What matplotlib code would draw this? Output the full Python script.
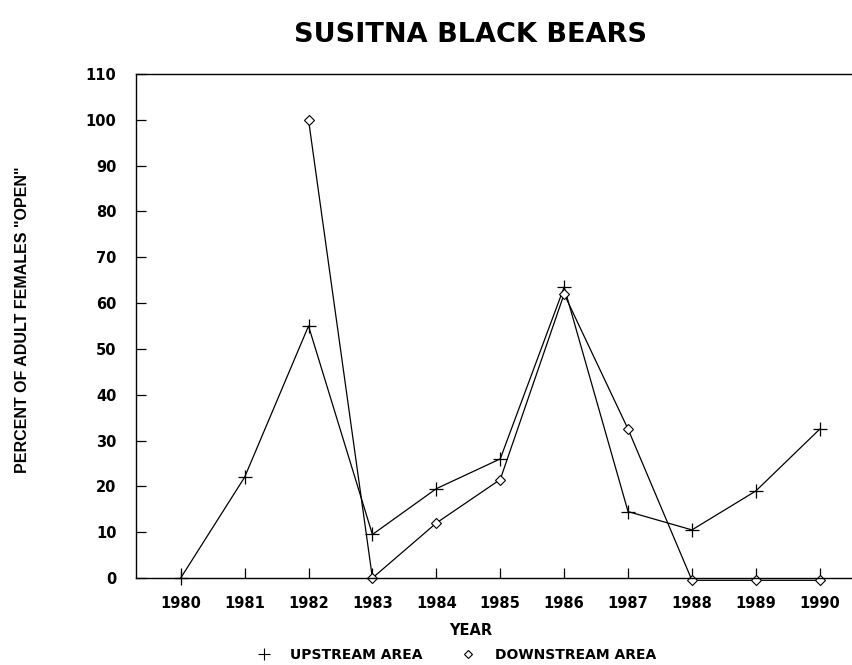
import numpy as np
import matplotlib.pyplot as plt
from matplotlib.lines import Line2D

# data
years = [1980, 1981, 1982, 1983, 1984, 1985, 1986, 1987, 1988, 1989, 1990]
upstream = [0, 22, 55, 9.5, 19.5, 26, 63.5, 14.5, 10.5, 19, 32.5]
down_years = [1982, 1983, 1984, 1985, 1986, 1987, 1988, 1989, 1990]
downstream = [100, 0, 12, 21.5, 62, 32.5, -0.5, -0.5, -0.5]

plt.rcParams['font.family'] = ['DejaVu Sans']

fig = plt.figure(figsize=(8.53, 6.65), dpi=100)
ax = fig.add_axes([0.1594, 0.1308, 0.8406, 0.7579])

ax.plot(years, upstream, color='black', lw=0.9, marker='+', ms=9.5,
        mew=0.9, clip_on=False)
ax.plot(down_years, downstream, color='black', lw=0.9, marker='D', ms=5,
        mfc='white', mew=0.8, clip_on=False)

ax.set_xlim(1979.3, 1990.52)
ax.set_ylim(0, 110)
ax.set_xticks(years)
ax.set_yticks(np.arange(0, 111, 10))
ax.tick_params(direction='in', length=7, width=0.9, labelsize=10.5, pad=13)
ax.tick_params(axis='y', pad=14)
for lab in ax.get_xticklabels() + ax.get_yticklabels():
    lab.set_fontweight('bold')
ax.spines['right'].set_visible(False)
for s in ['left', 'bottom', 'top']:
    ax.spines[s].set_linewidth(1.0)

fig.text(0.551, 0.947, 'SUSITNA BLACK BEARS', ha='center', va='center',
         fontsize=19.5, fontweight='bold')
fig.text(0.026, 0.519, 'PERCENT OF ADULT FEMALES "OPEN"', rotation=90,
         ha='center', va='center', fontsize=11.5, fontweight='bold',
         family=['Liberation Sans'])
fig.text(0.552, 0.052, 'YEAR', ha='center', va='center', fontsize=10.5,
         fontweight='bold')

handles = [Line2D([], [], color='black', marker='+', ls='none', ms=8, mew=0.8),
           Line2D([], [], color='black', marker='D', ls='none', ms=4.5,
                  mfc='white', mew=0.8)]
fig.legend(handles, ['UPSTREAM AREA', 'DOWNSTREAM AREA'], ncol=2,
           loc='center', bbox_to_anchor=(0.531, 0.015), frameon=False,
           prop={'size': 10, 'weight': 'bold'}, columnspacing=2.3,
           handletextpad=0.9, borderpad=0)

fig.savefig('out.png', dpi=100)
